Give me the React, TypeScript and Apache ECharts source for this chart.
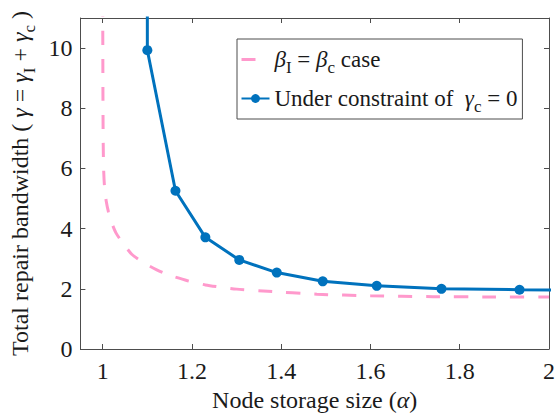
import React, { useEffect, useRef } from "react";
import * as echarts from "echarts";

const xTicks = [1, 1.2, 1.4, 1.6, 1.8, 2];
const yTicks = [0, 2, 4, 6, 8, 10];

// beta_I = beta_c case (pink dashed)
const equalBetaX = [1.0, 1.0005, 1.001, 1.002, 1.004, 1.008, 1.013, 1.02, 1.03, 1.046, 1.065, 1.09, 1.12, 1.15, 1.19, 1.23, 1.3, 1.37, 1.48, 1.6, 1.74, 1.87, 2.0];
const equalBetaY = [11.5, 8.5, 7.0, 6.0, 5.4, 4.9, 4.55, 4.2, 3.85, 3.5, 3.15, 2.88, 2.64, 2.45, 2.27, 2.13, 1.99, 1.92, 1.82, 1.77, 1.74, 1.73, 1.73];

// under constraint gamma_c = 0 (blue, markers)
const constrainedX = [1.1, 1.1, 1.163, 1.23, 1.306, 1.39, 1.493, 1.614, 1.759, 1.934, 2.15];
const constrainedY = [25, 9.93, 5.26, 3.71, 2.96, 2.54, 2.25, 2.1, 2.0, 1.97, 1.95];

const NAME_BETA = "βI = βc case";
const NAME_GAMMA = "Under constraint of γc = 0";

const FONT = '"Liberation Serif", "Times New Roman", serif';
const AXIS_COLOR = "#4d4d4d";
const TEXT_COLOR = "#1a1a1a";
const PINK = "#ff99cc";
const BLUE = "#0072bd";

const rich = (size: number, subSize: number, drop: number, lh?: number) => ({
  n: { fontSize: size, fontFamily: FONT, color: TEXT_COLOR, ...(lh ? { lineHeight: lh } : {}) },
  it: { fontSize: size, fontFamily: FONT, fontStyle: "italic", color: TEXT_COLOR, ...(lh ? { lineHeight: lh } : {}) },
  sub: {
    fontSize: subSize,
    fontFamily: FONT,
    color: TEXT_COLOR,
    padding: [drop, 0, 0, 0],
    ...(lh ? { lineHeight: lh } : {}),
  },
});

export default function App() {
  const ref = useRef<HTMLDivElement>(null);
  useEffect(() => {
    if (!ref.current) return;
    const chart = echarts.init(ref.current, undefined, { renderer: "svg" });
    const pair = (xs: number[], ys: number[]) => xs.map((x, i) => [x, ys[i]]);
    chart.setOption({
      animation: false,
      backgroundColor: "#fff",
      grid: { left: 80, right: 7, top: 18, bottom: 62, containLabel: false },
      legend: {
        orient: "vertical",
        left: 237,
        top: 39,
        padding: [4, 5, 4, 3],
        itemGap: 6,
        itemWidth: 28,
        itemHeight: 11,
        borderColor: AXIS_COLOR,
        borderWidth: 1,
        borderRadius: 0,
        backgroundColor: "#fff",
        data: [
          {
            name: NAME_BETA,
            itemStyle: { color: "rgba(0,0,0,0)", opacity: 0, borderWidth: 0 },
            lineStyle: { color: PINK, width: 3, type: [14, 14] },
          },
          { name: NAME_GAMMA },
        ],
        formatter: (name: string) =>
          name === NAME_BETA
            ? "{it|β}{sub|I}{n| = }{it|β}{sub|c}{n| case}"
            : "{n|Under constraint of  }{it|γ}{sub|c}{n| = 0}",
        textStyle: { rich: rich(23, 17, 16, 34) },
      },
      xAxis: [
        {
          type: "value",
          position: "bottom",
          min: 0.95,
          max: 2,
          axisLine: { show: true, onZero: false, lineStyle: { color: AXIS_COLOR, width: 1 } },
          axisTick: { show: true, inside: true, length: 5, customValues: xTicks, lineStyle: { color: AXIS_COLOR } },
          axisLabel: {
            show: true,
            customValues: xTicks,
            margin: 10,
            fontSize: 24,
            fontFamily: FONT,
            color: TEXT_COLOR,
            formatter: (v: number) => String(v),
          },
          splitLine: { show: false },
          name: "{n|Node storage size (}{it|α}{n|)}",
          nameLocation: "middle",
          nameGap: 39,
          nameTextStyle: { rich: rich(24, 17, 0) },
        },
        {
          type: "value",
          position: "top",
          min: 0.95,
          max: 2,
          axisLine: { show: true, onZero: false, lineStyle: { color: AXIS_COLOR, width: 1 } },
          axisTick: { show: true, inside: true, length: 5, customValues: xTicks, lineStyle: { color: AXIS_COLOR } },
          axisLabel: { show: false },
          splitLine: { show: false },
        },
      ],
      yAxis: [
        {
          type: "value",
          position: "left",
          min: 0,
          max: 11,
          axisLine: { show: true, onZero: false, lineStyle: { color: AXIS_COLOR, width: 1 } },
          axisTick: { show: true, inside: true, length: 5, customValues: yTicks, lineStyle: { color: AXIS_COLOR } },
          axisLabel: {
            show: true,
            customValues: yTicks,
            margin: 8,
            fontSize: 24,
            fontFamily: FONT,
            color: TEXT_COLOR,
          },
          splitLine: { show: false },
          name: "{n|Total repair bandwidth ( }{it|γ}{n| = }{it|γ}{sub|I}{n| + }{it|γ}{sub|c}{n| )}",
          nameLocation: "middle",
          nameGap: 42,
          nameTextStyle: { rich: rich(24, 17, 18) },
        },
        {
          type: "value",
          position: "right",
          min: 0,
          max: 11,
          axisLine: { show: true, onZero: false, lineStyle: { color: AXIS_COLOR, width: 1 } },
          axisTick: { show: true, inside: true, length: 5, customValues: yTicks, lineStyle: { color: AXIS_COLOR } },
          axisLabel: { show: false },
          splitLine: { show: false },
        },
      ],
      series: [
        {
          name: NAME_BETA,
          type: "line",
          xAxisIndex: 0,
          yAxisIndex: 0,
          data: pair(equalBetaX, equalBetaY),
          symbol: "none",
          smooth: 0.2,
          clip: true,
          lineStyle: { color: PINK, width: 3, type: [14, 14], cap: "butt" },
          itemStyle: { color: PINK },
          z: 2,
        },
        {
          name: NAME_GAMMA,
          type: "line",
          xAxisIndex: 0,
          yAxisIndex: 0,
          data: pair(constrainedX, constrainedY),
          symbol: "circle",
          symbolSize: 10,
          clip: true,
          lineStyle: { color: BLUE, width: 3 },
          itemStyle: { color: BLUE },
          z: 3,
        },
      ],
    });
    return () => chart.dispose();
  }, []);
  return (
    <div
      ref={ref}
      style={{ position: "fixed", left: 0, top: 0, width: 558, height: 417 }}
    />
  );
}
